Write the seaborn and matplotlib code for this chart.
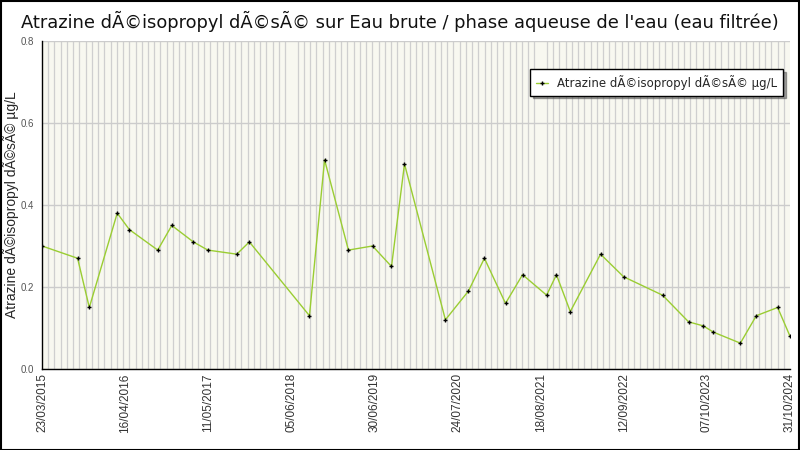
import numpy as np
import pandas as pd
import seaborn as sns
import matplotlib
matplotlib.use("Agg")
import matplotlib.pyplot as plt
import matplotlib.dates as mdates
from matplotlib.ticker import FixedLocator, MultipleLocator, FormatStrFormatter

title = "Atrazine dÃ©isopropyl dÃ©sÃ© sur Eau brute / phase aqueuse de l'eau (eau filtrée)"
series_name = "Atrazine dÃ©isopropyl dÃ©sÃ© µg/L"

dates = [
    "2015-03-23", "2015-09-06", "2015-10-31", "2016-03-10", "2016-05-06",
    "2016-09-16", "2016-11-21", "2017-03-02", "2017-05-09", "2017-09-22",
    "2017-11-20", "2018-08-29", "2018-11-08", "2019-02-28", "2019-06-21",
    "2019-09-18", "2019-11-18", "2020-05-28", "2020-09-13", "2020-11-27",
    "2021-03-06", "2021-05-25", "2021-09-15", "2021-10-31", "2022-01-04",
    "2022-05-26", "2022-09-11", "2023-03-13", "2023-07-13", "2023-09-21",
    "2023-11-06", "2024-03-12", "2024-05-26", "2024-09-03", "2024-10-31",
]
values = [
    0.30, 0.27, 0.15, 0.38, 0.34,
    0.29, 0.35, 0.31, 0.29, 0.28,
    0.31, 0.13, 0.51, 0.29, 0.30,
    0.25, 0.50, 0.12, 0.19, 0.27,
    0.16, 0.23, 0.18, 0.23, 0.14,
    0.28, 0.225, 0.18, 0.115, 0.105,
    0.09, 0.063, 0.13, 0.15, 0.08,
]

df = pd.DataFrame({"date": pd.to_datetime(dates), "value": values})

sns.set_style("white")
plt.rcParams["font.family"] = ["DejaVu Sans"]

fig = plt.figure(figsize=(8, 4.5), dpi=100)
ax = fig.add_axes([0.0525, 0.18, 0.935, 0.729])
ax.set_facecolor("#f8f8f0")

sns.lineplot(data=df, x="date", y="value", ax=ax, color="#9acd32", linewidth=1.0,
             marker="+", markersize=3.5, markeredgecolor="black", markeredgewidth=1.0,
             label=series_name)

start = mdates.date2num(pd.Timestamp("2015-03-23"))
end = mdates.date2num(pd.Timestamp("2024-10-31"))
ax.set_xlim(start, end)
ax.set_ylim(0, 0.8)

major_x = start + np.arange(10) * 390
ax.xaxis.set_major_locator(FixedLocator(major_x))
ax.xaxis.set_major_formatter(mdates.DateFormatter("%d/%m/%Y"))
ax.xaxis.set_minor_locator(FixedLocator(np.linspace(start, end, 121)))
ax.yaxis.set_major_locator(MultipleLocator(0.2))
ax.yaxis.set_minor_locator(MultipleLocator(0.05))
ax.yaxis.set_major_formatter(FormatStrFormatter("%.1f"))

ax.grid(True, which="minor", axis="x", color="#cfcfcf", linewidth=0.9)
ax.grid(True, which="major", axis="y", color="#cccccc", linewidth=1.0)
ax.set_axisbelow(True)

for s in ["top", "right"]:
    ax.spines[s].set_visible(False)
for s in ["left", "bottom"]:
    ax.spines[s].set_color("black")
    ax.spines[s].set_linewidth(1.0)

ax.tick_params(axis="x", which="major", direction="in", length=0, labelsize=8.5,
               labelcolor="#333333", labelrotation=90, pad=3)
ax.tick_params(axis="x", which="minor", direction="in", length=5, width=1, color="black")
ax.tick_params(axis="y", which="major", direction="inout", length=8, width=1,
               labelsize=7, labelcolor="#555555", color="black", pad=2)
ax.tick_params(axis="y", which="minor", direction="in", length=4, width=1, color="black")
for lbl in ax.get_xticklabels() + ax.get_yticklabels():
    lbl.set_family("Liberation Sans")

ax.set_xlabel("")
ax.set_ylabel(series_name, fontsize=10, family="Liberation Sans")
ax.yaxis.set_label_coords(-0.0305, 0.5)
fig.suptitle(title, x=0.5, y=0.975, fontsize=12.9, color="#111111")

leg = ax.legend(loc="upper right", bbox_to_anchor=(0.999, 0.933), frameon=True,
                fancybox=False, shadow=True, fontsize=8.5, handlelength=1.0,
                borderpad=0.5, framealpha=1)
leg.get_frame().set_edgecolor("black")
leg.get_frame().set_linewidth(1.0)

fig.patches.append(plt.Rectangle((0.001, 0.001), 0.998, 0.997, transform=fig.transFigure,
                                 fill=False, edgecolor="black", linewidth=1.5))

fig.savefig("out.png", dpi=100)
